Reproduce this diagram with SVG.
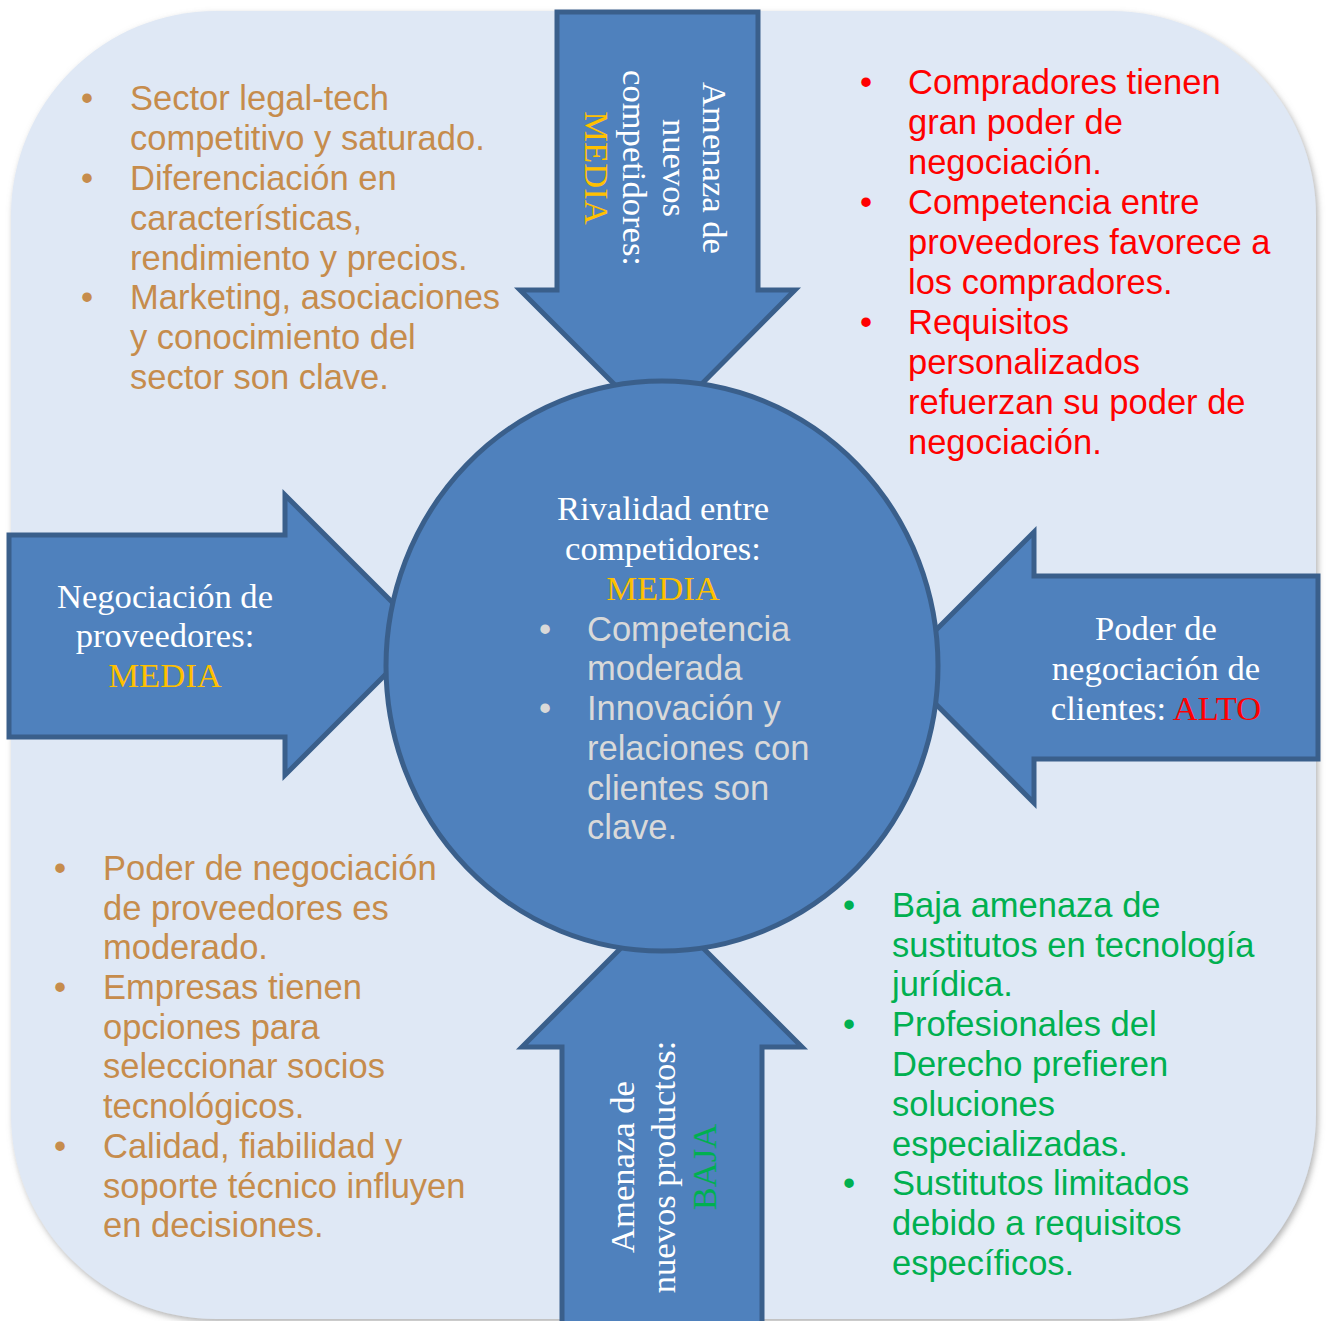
<svg xmlns="http://www.w3.org/2000/svg" width="1326" height="1321" viewBox="0 0 1326 1321">
<defs>
<filter id="shadow" x="-5%" y="-5%" width="110%" height="110%">
<feDropShadow dx="2" dy="3" stdDeviation="3" flood-color="#7f7f7f" flood-opacity="0.6"/>
</filter>
<style>
.arrow{fill:#4f81bd;stroke:#3a5f8b;stroke-width:5;stroke-linejoin:miter}
.circ{fill:#4f81bd;stroke:#3a5f8b;stroke-width:5}
.lbl{font-family:"Liberation Serif","Times New Roman",serif;font-size:34.6px;fill:#ffffff;text-anchor:middle}
.yel{fill:#ffc000}
.red{fill:#ff0000}
.grn{fill:#00b050}
.bl{font-family:"Liberation Sans",Arial,sans-serif;font-size:34.5px}
.tan{fill:#c68c4c}
.gry{fill:#d9d9d9}
.bul{text-anchor:middle}
</style>
</defs>
<rect id="background" x="11" y="11" width="1305" height="1308" rx="205" ry="205" fill="#dfe8f5" filter="url(#shadow)"/>

<g id="connectors">
<polygon id="arrow-top" class="arrow" points="557,12 758,12 758,290 795,290 658,428 520,290 557,290"/>
<polygon id="arrow-left" class="arrow" points="9,535 285,535 285,495 425,635 285,775 285,737 9,737"/>
<polygon id="arrow-right" class="arrow" points="1318,576 1034,576 1034,532 899,667 1034,803 1034,759 1318,759"/>
<polygon id="arrow-bottom" class="arrow" points="562,1330 562,1047 522,1047 662,907 802,1047 762,1047 762,1330"/>
</g>

<g id="node-rivalidad">
<ellipse class="circ" cx="662" cy="666" rx="276" ry="285"/>
<text class="lbl"><tspan x="663" y="520">Rivalidad entre</tspan><tspan x="663" y="560">competidores:</tspan><tspan x="663" y="600" class="yel">MEDIA</tspan></text>
<g class="bl gry">
<text class="bul" x="545" y="641">•</text>
<text class="bul" x="545" y="720">•</text>
<text x="587" y="641">Competencia</text>
<text x="587" y="680">moderada</text>
<text x="587" y="720">Innovación y</text>
<text x="587" y="760">relaciones con</text>
<text x="587" y="800">clientes son</text>
<text x="587" y="839">clave.</text>
</g>
</g>

<g id="node-nuevos-competidores">
<text class="lbl" transform="translate(703,168) rotate(90)"><tspan x="0" y="0">Amenaza de</tspan><tspan x="0" y="40">nuevos</tspan><tspan x="0" y="80">competidores:</tspan><tspan x="0" y="118" class="yel">MEDIA</tspan></text>
</g>

<g id="node-proveedores">
<text class="lbl"><tspan x="165" y="608">Negociación de</tspan><tspan x="165" y="647">proveedores:</tspan><tspan x="165" y="687" class="yel">MEDIA</tspan></text>
</g>

<g id="node-clientes">
<text class="lbl"><tspan x="1156" y="640">Poder de</tspan><tspan x="1156" y="680">negociación de</tspan><tspan x="1156" y="720">clientes: <tspan class="red">ALTO</tspan></tspan></text>
</g>

<g id="node-nuevos-productos">
<text class="lbl" transform="translate(634,1167) rotate(-90)"><tspan x="0" y="0">Amenaza de</tspan><tspan x="0" y="41">nuevos productos:</tspan><tspan x="0" y="82" class="grn">BAJA</tspan></text>
</g>

<g id="node-notas-competidores" class="bl tan">
<text class="bul" x="87" y="110">•</text>
<text class="bul" x="87" y="190">•</text>
<text class="bul" x="87" y="309">•</text>
<text x="130" y="110">Sector legal-tech</text>
<text x="130" y="150">competitivo y saturado.</text>
<text x="130" y="190">Diferenciación en</text>
<text x="130" y="230">características,</text>
<text x="130" y="270">rendimiento y precios.</text>
<text x="130" y="309">Marketing, asociaciones</text>
<text x="130" y="349">y conocimiento del</text>
<text x="130" y="389">sector son clave.</text>
</g>

<g id="node-notas-clientes" class="bl red">
<text class="bul" x="866" y="94">•</text>
<text class="bul" x="866" y="214">•</text>
<text class="bul" x="866" y="334">•</text>
<text x="908" y="94">Compradores tienen</text>
<text x="908" y="134">gran poder de</text>
<text x="908" y="174">negociación.</text>
<text x="908" y="214">Competencia entre</text>
<text x="908" y="254">proveedores favorece a</text>
<text x="908" y="294">los compradores.</text>
<text x="908" y="334">Requisitos</text>
<text x="908" y="374">personalizados</text>
<text x="908" y="414">refuerzan su poder de</text>
<text x="908" y="454">negociación.</text>
</g>

<g id="node-notas-proveedores" class="bl tan">
<text class="bul" x="60" y="880">•</text>
<text class="bul" x="60" y="999">•</text>
<text class="bul" x="60" y="1158">•</text>
<text x="103" y="880">Poder de negociación</text>
<text x="103" y="920">de proveedores es</text>
<text x="103" y="959">moderado.</text>
<text x="103" y="999">Empresas tienen</text>
<text x="103" y="1039">opciones para</text>
<text x="103" y="1078">seleccionar socios</text>
<text x="103" y="1118">tecnológicos.</text>
<text x="103" y="1158">Calidad, fiabilidad y</text>
<text x="103" y="1198">soporte técnico influyen</text>
<text x="103" y="1237">en decisiones.</text>
</g>

<g id="node-notas-productos" class="bl grn">
<text class="bul" x="849" y="917">•</text>
<text class="bul" x="849" y="1036">•</text>
<text class="bul" x="849" y="1195">•</text>
<text x="892" y="917">Baja amenaza de</text>
<text x="892" y="957">sustitutos en tecnología</text>
<text x="892" y="996">jurídica.</text>
<text x="892" y="1036">Profesionales del</text>
<text x="892" y="1076">Derecho prefieren</text>
<text x="892" y="1116">soluciones</text>
<text x="892" y="1156">especializadas.</text>
<text x="892" y="1195">Sustitutos limitados</text>
<text x="892" y="1235">debido a requisitos</text>
<text x="892" y="1275">específicos.</text>
</g>
</svg>
